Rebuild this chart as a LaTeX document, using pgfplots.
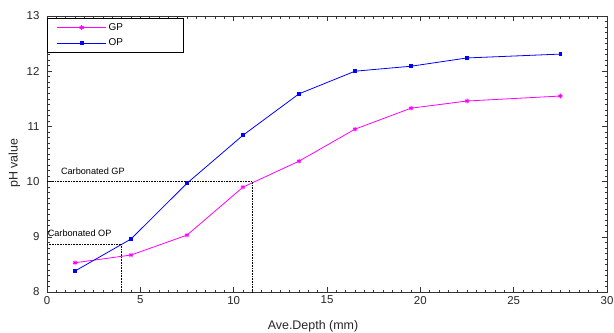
\documentclass[border=0pt]{standalone}
\usepackage{pgfplots}
\pgfplotsset{compat=1.18}
\usepackage{fontspec}
\setmainfont{Liberation Sans}
\definecolor{gpcol}{RGB}{255,0,255}
\definecolor{opcol}{RGB}{0,0,255}
\begin{document}
\begin{tikzpicture}[x=1bp,y=1bp]
\begin{axis}[
  scale only axis,
  width=560bp, height=276bp,
  xmin=0, xmax=30, ymin=8, ymax=13,
  xtick={0,5,...,30}, ytick={8,...,13},
  minor x tick num=9, minor y tick num=9,
  tick align=inside,
  major tick length=5bp, minor tick length=2.5bp,
  every tick/.style={black!80, line width=0.6pt},
  axis line style={black!80, line width=0.8pt},
  /pgf/number format/assume math mode=true,
  ticklabel style={font=\fontsize{11.5}{13}\selectfont, text=black!85},
  yticklabel style={xshift=-4bp},
  xticklabel style={yshift=-0.5bp},
  xlabel={Ave.Depth (mm)}, ylabel={pH value},
  every axis x label/.style={at={(axis description cs:0.475,-0.123)}, anchor=center},
  every axis y label/.style={at={(axis description cs:-0.058,0.467)}, anchor=center, rotate=90},
  label style={font=\fontsize{12.5}{14}\selectfont, text=black!85},
  legend style={at={(axis description cs:0,1)}, anchor=north west,
    xshift=0.5bp, yshift=-2bp,
    font=\fontsize{10}{12}\selectfont, draw=black, line width=0.6pt,
    inner xsep=9bp, inner ysep=3bp, row sep=3bp,
    legend cell align=left},
  legend image code/.code={
    \draw[#1] (0bp,0bp) -- (49bp,0bp);
    \draw[#1, only marks] plot coordinates {(24.5bp,0bp)};
  },
  clip=false,
]
\addplot[gpcol, line width=0.8pt, mark=asterisk, mark size=2.3pt,
  mark options={line width=1pt}]
  coordinates {(1.5,8.53) (4.5,8.67) (7.5,9.03) (10.5,9.90) (13.5,10.37)
    (16.5,10.95) (19.5,11.33) (22.5,11.46) (27.5,11.55)};
\addlegendentry{\makebox[64bp][l]{GP}}
\addplot[opcol, line width=0.8pt, mark=square*, mark size=1.4pt]
  coordinates {(1.5,8.38) (4.5,8.96) (7.5,9.97) (10.5,10.84) (13.5,11.59)
    (16.5,12.00) (19.5,12.09) (22.5,12.24) (27.5,12.31)};
\addlegendentry{\makebox[64bp][l]{OP}}
% carbonation depth guides
\addplot[black, densely dotted, line width=0.6pt, forget plot]
  coordinates {(0,10) (11,10) (11,8)};
\addplot[black, densely dotted, line width=0.6pt, forget plot]
  coordinates {(0,8.87) (4,8.87) (4,8)};
\node[anchor=base west, font=\fontsize{9.2}{11}\selectfont, inner sep=0pt]
  at (axis cs:0.74,10.12) {Carbonated GP};
\node[anchor=base west, font=\fontsize{9.2}{11}\selectfont, inner sep=0pt]
  at (axis cs:0.03,9.0) {Carbonated OP};
\end{axis}
\pgfresetboundingbox
\path[use as bounding box] (-47bp,-41bp) rectangle (567bp,292bp);
\end{tikzpicture}
\end{document}
